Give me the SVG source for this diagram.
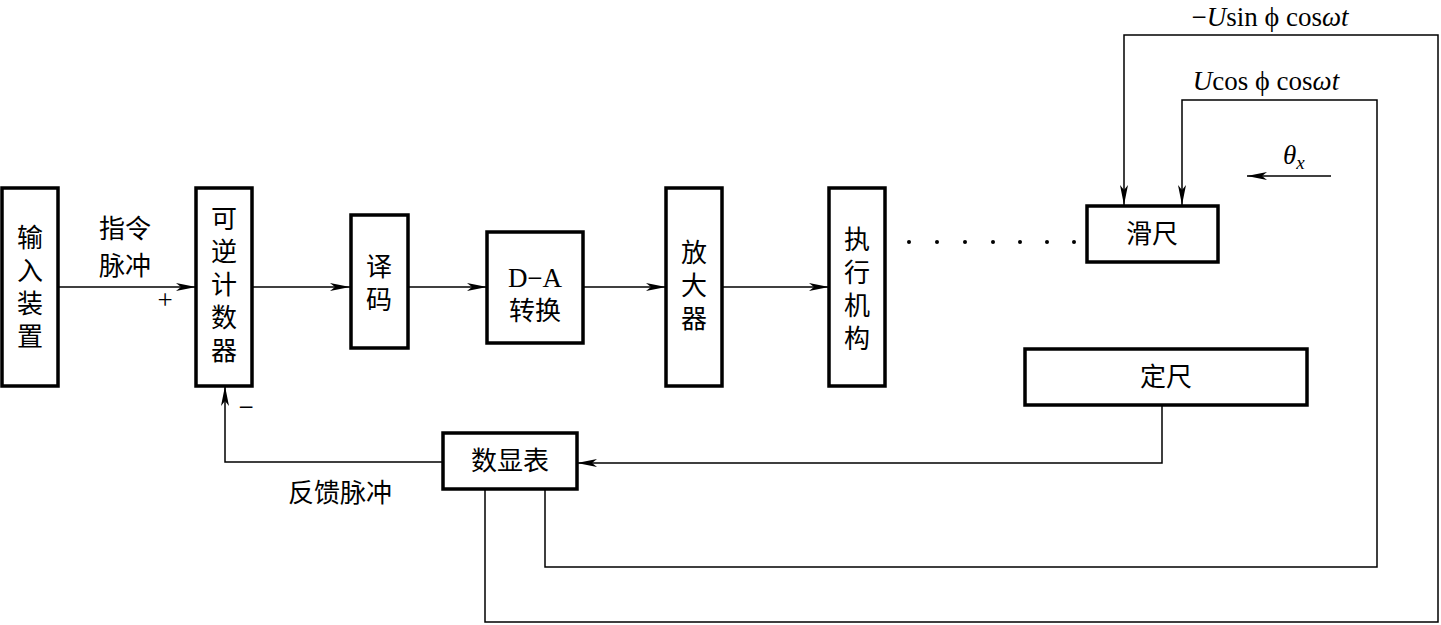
<svg xmlns="http://www.w3.org/2000/svg" width="1441" height="625" viewBox="0 0 1441 625">
<style>
.box{fill:#fff;stroke:#000;stroke-width:3.5}
.ln{fill:none;stroke:#000;stroke-width:1.5}
.cn{font-family:"Noto Sans CJK SC",sans-serif;font-size:26px;fill:#000;text-anchor:middle}
.v{writing-mode:vertical-rl;letter-spacing:7px}
.m{font-family:"Liberation Serif",serif;font-size:27px;fill:#000}
.i{font-style:italic}
</style>
<defs>
<marker id="a" viewBox="0 0 20 10" refX="20" refY="5" markerWidth="20" markerHeight="10" markerUnits="userSpaceOnUse" orient="auto">
<path d="M0,1 L20,5 L0,9 L5,5 Z" fill="#000"/>
</marker>
</defs>
<rect width="1441" height="625" fill="#fff"/>
<g id="connectors">
<line class="ln" x1="58" y1="287" x2="196" y2="287" marker-end="url(#a)"/>
<line class="ln" x1="252" y1="287" x2="350" y2="287" marker-end="url(#a)"/>
<line class="ln" x1="408" y1="287" x2="487" y2="287" marker-end="url(#a)"/>
<line class="ln" x1="583" y1="287" x2="666" y2="287" marker-end="url(#a)"/>
<line class="ln" x1="722" y1="287" x2="829" y2="287" marker-end="url(#a)"/>
<polyline class="ln" points="443,462 225,462 225,386" marker-end="url(#a)"/>
<polyline class="ln" points="1162,405 1162,463 577,463" marker-end="url(#a)"/>
<polyline class="ln" points="545,489 545,567 1377,567 1377,100 1182,100 1182,205" marker-end="url(#a)"/>
<polyline class="ln" points="485,489 485,622 1438,622 1438,35 1124,35 1124,205" marker-end="url(#a)"/>
<line class="ln" x1="1331" y1="176" x2="1247" y2="176" marker-end="url(#a)"/>
</g>
<g id="n-input"><rect class="box" x="2" y="188" width="56" height="198"/>
<text class="cn v" x="30" y="290">输入装置</text></g>
<g id="n-counter"><rect class="box" x="196" y="188" width="56" height="198"/>
<text class="cn v" x="224" y="288">可逆计数器</text></g>
<g id="n-decode"><rect class="box" x="351" y="215" width="57" height="133"/>
<text class="cn v" x="379" y="286">译码</text></g>
<g id="n-da"><rect class="box" x="487" y="232" width="96" height="111"/>
<text class="m" x="535" y="287" text-anchor="middle" font-size="26">D−A</text>
<text class="cn" x="535" y="320" font-size="25">转换</text></g>
<g id="n-amp"><rect class="box" x="666" y="188" width="56" height="198"/>
<text class="cn v" x="694" y="289">放大器</text></g>
<g id="n-actuator"><rect class="box" x="829" y="188" width="56" height="198"/>
<text class="cn v" x="857" y="292">执行机构</text></g>
<g id="n-slider"><rect class="box" x="1087" y="206" width="131" height="56"/>
<text class="cn" x="1152" y="243">滑尺</text></g>
<g id="n-scale"><rect class="box" x="1025" y="349" width="282" height="56"/>
<text class="cn" x="1166" y="386">定尺</text></g>
<g id="n-display"><rect class="box" x="443" y="433" width="134" height="56"/>
<text class="cn" x="510" y="470">数显表</text></g>
<g id="labels">
<text class="cn" x="125" y="238" font-size="25">指令</text>
<text class="cn" x="125" y="275" font-size="25">脉冲</text>
<text class="m" x="165" y="309" text-anchor="middle" font-size="22">+</text>
<text class="m" x="246" y="416" text-anchor="middle" font-size="22">−</text>
<text class="cn" x="340" y="502">反馈脉冲</text>
<g fill="#000">
<circle cx="909" cy="242" r="2"/><circle cx="937" cy="242" r="2"/><circle cx="965" cy="242" r="2"/><circle cx="993" cy="242" r="2"/><circle cx="1020" cy="242" r="2"/><circle cx="1047" cy="242" r="2"/><circle cx="1074" cy="242" r="2"/>
</g>
<text class="m" x="1270" y="26" text-anchor="middle">−<tspan class="i">U</tspan>sin <tspan font-size="28">ϕ</tspan> cos<tspan class="i">ωt</tspan></text>
<text class="m" x="1266" y="90" text-anchor="middle"><tspan class="i">U</tspan>cos <tspan font-size="28">ϕ</tspan> cos<tspan class="i">ωt</tspan></text>
<text class="m i" x="1283" y="164">θ<tspan font-size="19" dy="5">x</tspan></text>
</g>
</svg>
